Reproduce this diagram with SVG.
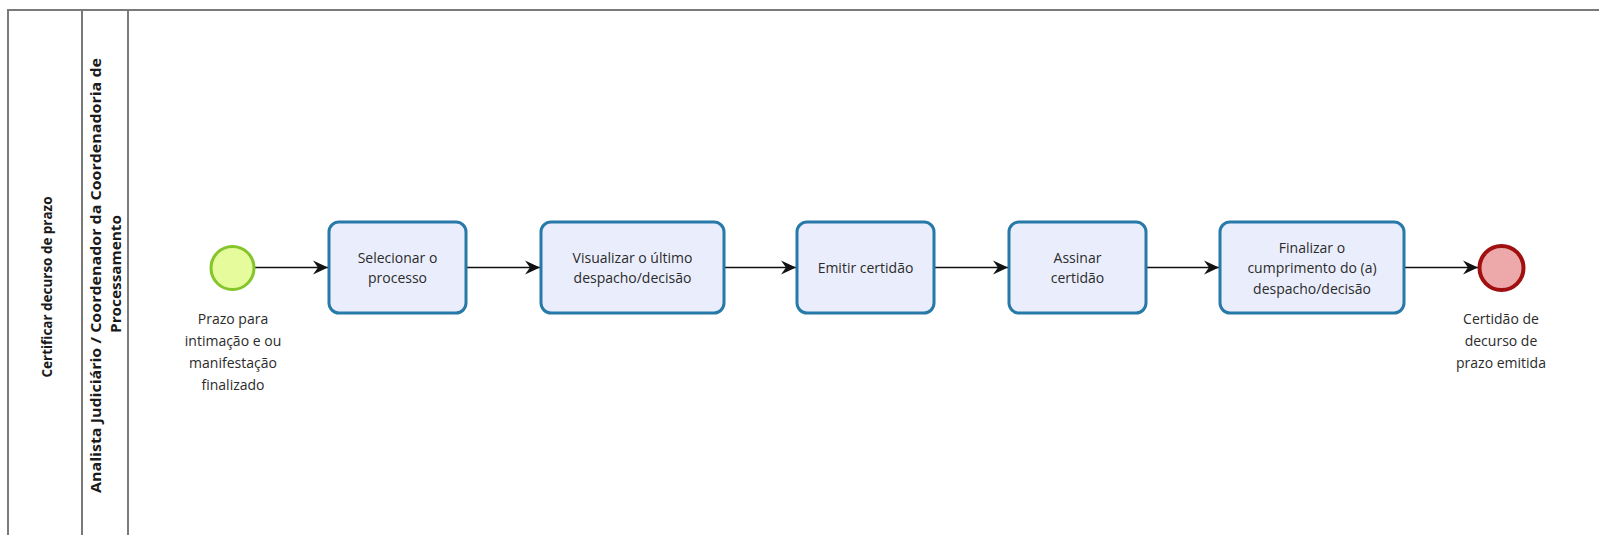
<svg xmlns="http://www.w3.org/2000/svg" width="1599" height="535" viewBox="0 0 1599 535">
<style>
.pool{fill:#ffffff;stroke:#7a7a7a;stroke-width:2}
.task{fill:#eaeefc;stroke:#2779a8;stroke-width:3}
.t{font-family:"Open Sans","DejaVu Sans",sans-serif;font-size:14px;fill:#2b2b2b;text-anchor:middle}
.lbl{font-family:"Open Sans","DejaVu Sans",sans-serif;font-size:15px;font-weight:bold;fill:#1a1a1a;text-anchor:middle}
.flow{stroke:#111;stroke-width:1.5;fill:none;marker-end:url(#arr)}
</style>
<defs>
<marker id="arr" markerWidth="16" markerHeight="16" refX="15" refY="8" orient="auto" markerUnits="userSpaceOnUse">
<path d="M0,1 L15,8 L0,15 L5,8 z" fill="#111"/>
</marker>
</defs>
<rect width="1599" height="535" fill="#ffffff"/>
<g id="pool">
<rect class="pool" x="8" y="10" width="1620" height="560"/>
<line class="pool" x1="82" y1="10" x2="82" y2="570"/>
<line class="pool" x1="128" y1="10" x2="128" y2="570"/>
<text class="lbl" transform="translate(52,287) rotate(-90)" textLength="181" lengthAdjust="spacingAndGlyphs">Certificar decurso de prazo</text>
<text class="lbl" transform="translate(100.5,275.5) rotate(-90)" textLength="435" lengthAdjust="spacingAndGlyphs">Analista Judiciário / Coordenador da Coordenadoria de</text>
<text class="lbl" transform="translate(120.5,274) rotate(-90)" textLength="118" lengthAdjust="spacingAndGlyphs">Processamento</text>
</g>
<g id="connectors">
<line class="flow" x1="255" y1="267.5" x2="328" y2="267.5"/>
<line class="flow" x1="467" y1="267.5" x2="540" y2="267.5"/>
<line class="flow" x1="724" y1="267.5" x2="796" y2="267.5"/>
<line class="flow" x1="934" y1="267.5" x2="1008" y2="267.5"/>
<line class="flow" x1="1146" y1="267.5" x2="1219" y2="267.5"/>
<line class="flow" x1="1404" y1="267.5" x2="1478" y2="267.5"/>
</g>
<g id="start">
<circle cx="232.5" cy="268" r="21.5" fill="#e6fb9c" stroke="#84c52a" stroke-width="3"/>
<text class="t" x="233" y="324">Prazo para</text>
<text class="t" x="233" y="346">intimação e ou</text>
<text class="t" x="233" y="368">manifestação</text>
<text class="t" x="233" y="390">finalizado</text>
</g>
<g id="task1">
<rect class="task" x="329" y="222" width="137" height="91" rx="10"/>
<text class="t" x="397.5" y="262.5">Selecionar o</text>
<text class="t" x="397.5" y="282.5">processo</text>
</g>
<g id="task2">
<rect class="task" x="541" y="222" width="183" height="91" rx="10"/>
<text class="t" x="632.5" y="262.5">Visualizar o último</text>
<text class="t" x="632.5" y="282.5">despacho/decisão</text>
</g>
<g id="task3">
<rect class="task" x="797" y="222" width="137" height="91" rx="10"/>
<text class="t" x="865.5" y="272.5">Emitir certidão</text>
</g>
<g id="task4">
<rect class="task" x="1009" y="222" width="137" height="91" rx="10"/>
<text class="t" x="1077.5" y="262.5">Assinar</text>
<text class="t" x="1077.5" y="282.5">certidão</text>
</g>
<g id="task5">
<rect class="task" x="1220" y="222" width="184" height="91" rx="10"/>
<text class="t" x="1312" y="252.5">Finalizar o</text>
<text class="t" x="1312" y="273">cumprimento do (a)</text>
<text class="t" x="1312" y="293.5">despacho/decisão</text>
</g>
<g id="end">
<circle cx="1501.5" cy="268" r="22" fill="#eda9a9" stroke="#a01010" stroke-width="4"/>
<text class="t" x="1501" y="324">Certidão de</text>
<text class="t" x="1501" y="346">decurso de</text>
<text class="t" x="1501" y="368">prazo emitida</text>
</g>
</svg>
